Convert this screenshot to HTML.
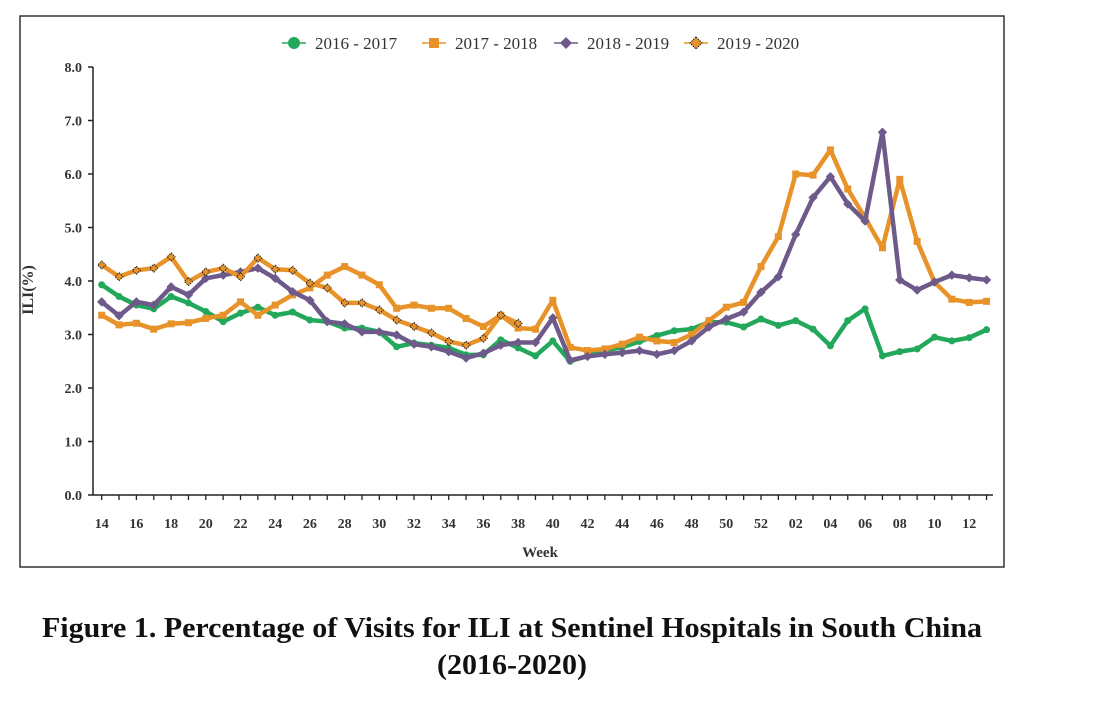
<!DOCTYPE html>
<html><head><meta charset="utf-8"><style>
body{margin:0;background:#fff;width:1100px;height:720px;overflow:hidden}
svg{font-family:"Liberation Serif",serif}
</style></head><body>
<svg width="1100" height="720" id="c">
<rect x="20" y="16" width="984" height="551" fill="#fff" stroke="#333" stroke-width="1.5"/>
<g id="legend"></g>
<g id="axes"></g>
<g id="series"></g>
<text x="33" y="290" transform="rotate(-90 33 290)" text-anchor="middle" font-size="16" font-weight="bold" fill="#333">ILI(%)</text>
<text x="540" y="557" text-anchor="middle" font-size="15" font-weight="bold" fill="#333">Week</text>
<text x="512" y="637" text-anchor="middle" font-size="29" font-weight="bold" fill="#111" textLength="940" lengthAdjust="spacingAndGlyphs">Figure 1. Percentage of Visits for ILI at Sentinel Hospitals in South China</text>
<text x="512" y="674" text-anchor="middle" font-size="29" font-weight="bold" fill="#111" textLength="150" lengthAdjust="spacingAndGlyphs">(2016-2020)</text>
</svg>
<script>
const weeks=[14,15,16,17,18,19,20,21,22,23,24,25,26,27,28,29,30,31,32,33,34,35,36,37,38,39,40,41,42,43,44,45,46,47,48,49,50,51,52,1,2,3,4,5,6,7,8,9,10,11,12,13];
const yTicks=[0,1,2,3,4,5,6,7,8];
const s2016=[3.93,3.71,3.55,3.48,3.71,3.59,3.43,3.24,3.40,3.51,3.36,3.42,3.27,3.24,3.12,3.12,3.05,2.77,2.84,2.80,2.75,2.62,2.62,2.90,2.75,2.6,2.88,2.5,2.6,2.7,2.76,2.87,2.98,3.07,3.1,3.23,3.23,3.14,3.29,3.17,3.26,3.1,2.79,3.26,3.48,2.6,2.68,2.73,2.95,2.88,2.94,3.09];
const s2017=[3.36,3.18,3.21,3.1,3.2,3.22,3.3,3.36,3.61,3.36,3.55,3.74,3.87,4.11,4.27,4.11,3.93,3.49,3.55,3.49,3.49,3.3,3.15,3.36,3.12,3.1,3.64,2.76,2.7,2.73,2.82,2.95,2.88,2.85,3.0,3.26,3.51,3.6,4.27,4.83,6.0,5.98,6.45,5.72,5.18,4.62,5.9,4.74,3.98,3.66,3.6,3.62];
const s2018=[3.61,3.35,3.61,3.55,3.89,3.74,4.05,4.11,4.17,4.24,4.05,3.8,3.64,3.24,3.2,3.05,3.05,2.99,2.82,2.77,2.68,2.56,2.65,2.8,2.85,2.85,3.31,2.52,2.59,2.63,2.66,2.7,2.63,2.7,2.88,3.14,3.29,3.42,3.79,4.08,4.87,5.56,5.95,5.44,5.12,6.78,4.02,3.83,3.98,4.11,4.06,4.02];
const s2019=[4.3,4.08,4.2,4.24,4.45,3.99,4.17,4.24,4.08,4.43,4.22,4.2,3.96,3.87,3.59,3.59,3.46,3.27,3.15,3.03,2.87,2.8,2.93,3.36,3.21];
const names=["2016 - 2017","2017 - 2018","2018 - 2019","2019 - 2020"];
const NS="http://www.w3.org/2000/svg";
const X0=101.7,STEP=17.35,Y0=495,YU=53.5;
const xs=i=>X0+STEP*i, ys=v=>Y0-v*YU;
function mk(t,a,p){const e=document.createElementNS(NS,t);for(const k in a)e.setAttribute(k,a[k]);p.appendChild(e);return e;}
const ax=document.getElementById('axes');
let l=mk('line',{x1:93,y1:ys(8),x2:93,y2:Y0,stroke:'#222','stroke-width':1.5},ax);


l=mk('line',{x1:93,y1:Y0,x2:993,y2:Y0,stroke:'#222','stroke-width':1.5},ax);


yTicks.forEach(v=>{
 mk('line',{x1:88,y1:ys(v),x2:93,y2:ys(v),stroke:'#222','stroke-width':1.5},ax);
 const t=mk('text',{x:82,y:ys(v)+5,'text-anchor':'end','font-size':14,'font-weight':'bold',fill:'#333'},ax);
 t.textContent=v.toFixed(1);
 
 
});
weeks.forEach((w,i)=>{
 mk('line',{x1:xs(i),y1:Y0,x2:xs(i),y2:Y0+5,stroke:'#222','stroke-width':1.3},ax);
 if(i%2===0){
 const d=(i>=40)?((w<10)?'0'+w:String(w)):String(w);
 const t=mk('text',{x:xs(i),y:528,'text-anchor':'middle','font-size':14,'font-weight':'bold',fill:'#333'},ax);
 t.textContent=d;
 
 }
});
const sg=document.getElementById('series');
function draw(data,col,name,marker){
 const g=mk('g',{},sg);
 
 
 const pts=data.map((v,i)=>xs(i)+','+ys(v)).join(' ');
 mk('polyline',{points:pts,fill:'none',stroke:col,'stroke-width':4.5,'stroke-linejoin':'round'},g);
 data.forEach((v,i)=>{
  const x=xs(i),y=ys(v);
  if(marker==='c')mk('circle',{cx:x,cy:y,r:3.5,fill:col},g);
  else if(marker==='s')mk('rect',{x:x-3.5,y:y-3.5,width:7,height:7,fill:col},g);
  else if(marker==='d')mk('polygon',{points:`${x},${y-4} ${x+4},${y} ${x},${y+4} ${x-4},${y}`,fill:col,stroke:col},g);
  else mk('polygon',{points:`${x},${y-4} ${x+4},${y} ${x},${y+4} ${x-4},${y}`,fill:col,stroke:'#222','stroke-width':1,'stroke-dasharray':'1.5 1'},g);
 });
}
draw(s2016,'#22a85a','series-2016-2017','c');
draw(s2017,'#e8922a','series-2017-2018','s');
draw(s2018,'#6e5a8a','series-2018-2019','d');
draw(s2019,'#e8922a','series-2019-2020','x');
const lg=document.getElementById('legend');
const lcols=['#22a85a','#e8922a','#6e5a8a','#e8922a'],lm=['c','s','d','x'],lx=[282,422,554,684];
names.forEach((n,k)=>{
 const g=mk('g',{},lg);
 
 
 const x=lx[k],y=43;
 mk('line',{x1:x,y1:y,x2:x+24,y2:y,stroke:lcols[k],'stroke-width':1.5},g);
 const c=x+12;
 if(lm[k]==='c')mk('circle',{cx:c,cy:y,r:6,fill:lcols[k]},g);
 else if(lm[k]==='s')mk('rect',{x:c-5,y:y-5,width:10,height:10,fill:lcols[k]},g);
 else if(lm[k]==='d')mk('polygon',{points:`${c},${y-6} ${c+6},${y} ${c},${y+6} ${c-6},${y}`,fill:lcols[k]},g);
 else mk('polygon',{points:`${c},${y-6} ${c+6},${y} ${c},${y+6} ${c-6},${y}`,fill:lcols[k],stroke:'#222','stroke-dasharray':'1.5 1'},g);
 const t=mk('text',{x:x+33,y:y+6,'font-size':17,fill:'#333'},g);
 t.textContent=n;
});
</script>
</body></html>
